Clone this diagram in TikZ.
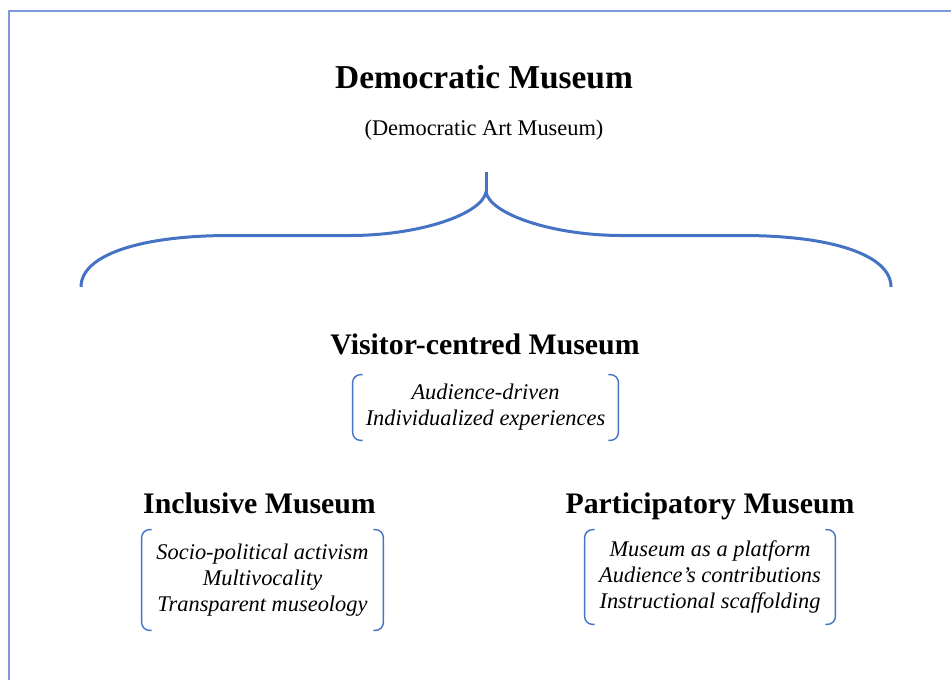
\documentclass[tikz,border=0pt]{standalone}
\usepackage{fontspec}
\setmainfont{Liberation Serif}
\definecolor{brc}{RGB}{68,114,196}
\definecolor{frm}{RGB}{125,155,220}

\begin{document}
\begin{tikzpicture}[x=0.5pt,y=-0.5pt,
  head/.style={anchor=base,font=\fontsize{14.9}{18}\selectfont\bfseries},
  items/.style={align=center,inner sep=0pt,font=\fontsize{11.2}{13}\selectfont\itshape},
  br/.style={draw=brc,line width=0.7pt,rounded corners=4pt}]
\useasboundingbox (0,0) rectangle (951,680);
\draw[frm,line width=1pt] (8.5,680) -- (8.5,11) -- (951,11);
\node [anchor=base,font=\fontsize{16.7}{20}\selectfont\bfseries] (dm) at (484,88) {Democratic Museum};
\node [anchor=base,font=\fontsize{11.2}{13}\selectfont] (da) at (484,135) {(Democratic Art Museum)};
\coordinate (s) at (486,172);
\coordinate (c) at (486,192);
\draw[brc,line width=1.5pt] (s) -- (c);
\draw[brc,line width=1.5pt] (81,287) .. controls (81,255) and (140,235.5) .. (230,235.5)
  -- (350,235.5) .. controls (420,235.5) and (482,214) .. (c)
  .. controls (490,214) and (552,235.5) .. (622,235.5)
  -- (742,235.5) .. controls (832,235.5) and (891,255) .. (891,287);
\node [head] (vm) at (485,354) {Visitor-centred Museum};
\node [items,minimum width=132.5pt,minimum height=32.5pt] (vt) at (485.5,407.5)
  {Audience-driven\\Individualized experiences};
\node [head] (im) at (259.5,513) {Inclusive Museum};
\node [items,minimum width=120.5pt,minimum height=50pt] (it) at (262.5,580)
  {Socio-political activism\\Multivocality\\Transparent museology};
\node [head] (pm) at (710,513) {Participatory Museum};
\node [items,minimum width=125pt,minimum height=47pt] (pt) at (710,577)
  {Museum as a platform\\Audience’s contributions\\Instructional scaffolding};
\draw[br] ([xshift=5pt]vt.north west) -- (vt.north west) -- (vt.south west) -- ([xshift=5pt]vt.south west);
\draw[br] ([xshift=-5pt]vt.north east) -- (vt.north east) -- (vt.south east) -- ([xshift=-5pt]vt.south east);
\draw[br] ([xshift=5pt]it.north west) -- (it.north west) -- (it.south west) -- ([xshift=5pt]it.south west);
\draw[br] ([xshift=-5pt]it.north east) -- (it.north east) -- (it.south east) -- ([xshift=-5pt]it.south east);
\draw[br] ([xshift=5pt]pt.north west) -- (pt.north west) -- (pt.south west) -- ([xshift=5pt]pt.south west);
\draw[br] ([xshift=-5pt]pt.north east) -- (pt.north east) -- (pt.south east) -- ([xshift=-5pt]pt.south east);
\end{tikzpicture}
\end{document}
